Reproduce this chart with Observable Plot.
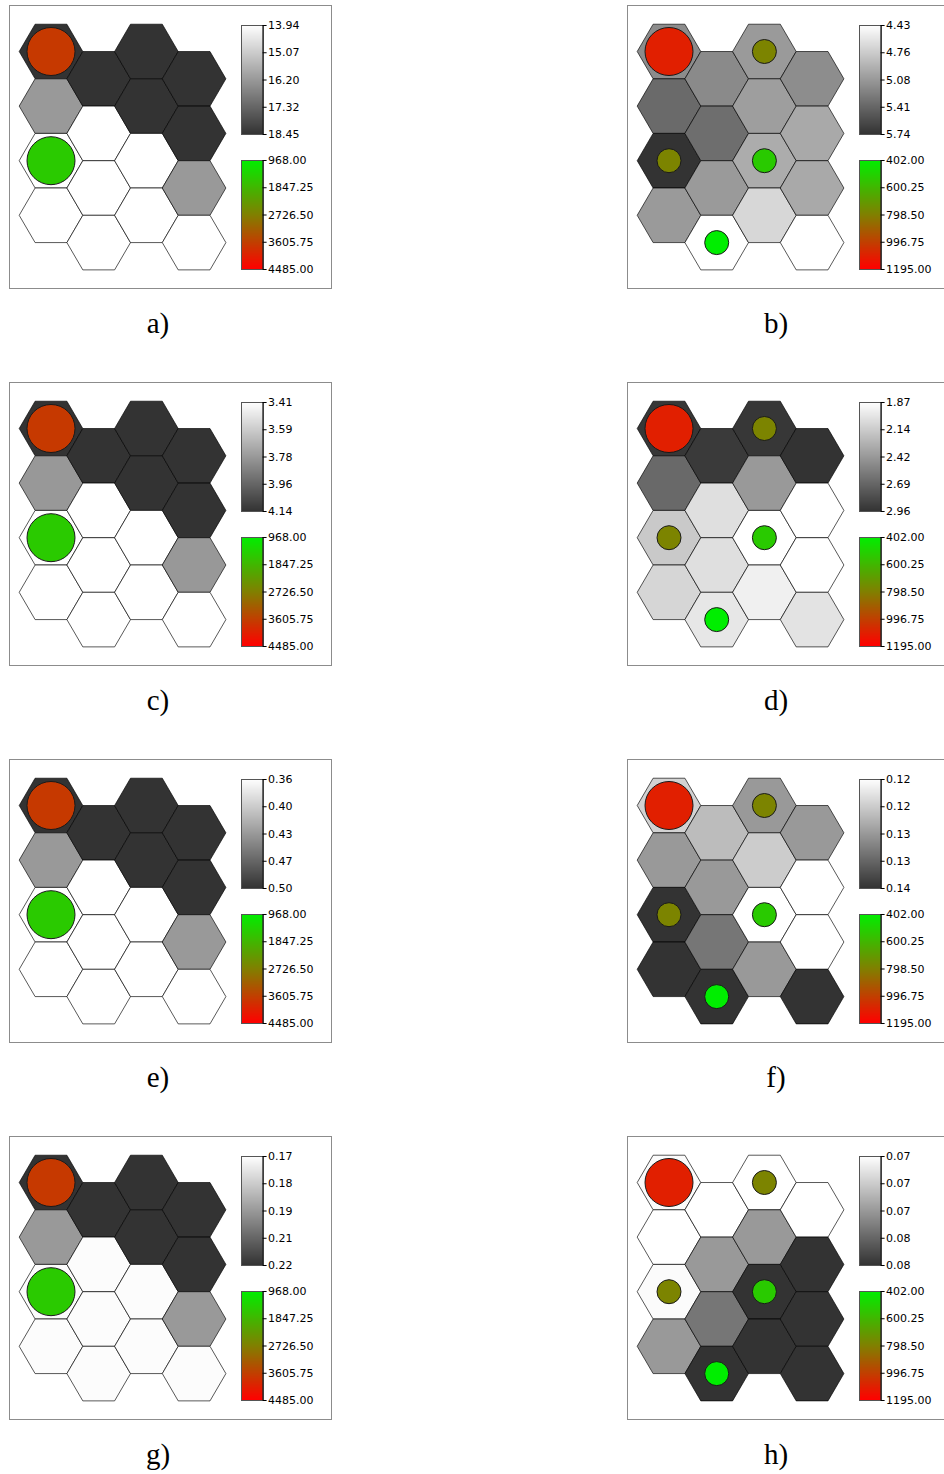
<!DOCTYPE html>
<html>
<head>
<meta charset="utf-8">
<script src="https://cdn.jsdelivr.net/npm/d3@7"></script>
<script src="https://cdn.jsdelivr.net/npm/@observablehq/plot@0.6"></script>
<style>
  html, body { margin: 0; padding: 0; background: #fff; }
  body { width: 944px; height: 1474px; overflow: hidden; position: relative; }
  .panel { position: absolute; width: 323px; height: 284px; box-sizing: border-box;
           border: 1.5px solid #8c8c8c; background: #fff; }
  .layer { position: absolute; }
  .cap { position: absolute; width: 120px; text-align: center; line-height: 29px;
         font-family: "Liberation Serif", "Times New Roman", serif; font-size: 29px; color: #000; }
</style>
</head>
<body>
<script>
// ---------------- data ----------------
const panelLabels = ["a)", "b)", "c)", "d)", "e)", "f)", "g)", "h)"];

// SOM grid: 4 columns x 4 rows (column-major order)
const hexCols = [0,0,0,0, 1,1,1,1, 2,2,2,2, 3,3,3,3];
const hexRows = [0,1,2,3, 0,1,2,3, 0,1,2,3, 0,1,2,3];

// component-plane values per panel (same order as hexCols/hexRows)
const valuesA = [18.45,16.20,13.94,13.94, 18.45,13.94,13.94,13.94, 18.45,18.45,13.94,13.94, 18.45,18.45,16.20,13.94];
const valuesB = [5.17,5.39,5.74,5.08, 5.18,5.36,5.08,4.43, 5.08,5.05,4.96,4.69, 5.16,4.98,4.98,4.43];
const valuesC = [4.14,3.78,3.41,3.41, 4.14,3.41,3.41,3.41, 4.14,4.14,3.41,3.41, 4.14,4.14,3.78,3.41];
const valuesD = [2.94,2.67,2.16,2.09, 2.92,2.04,2.04,2.00, 2.94,2.415,1.87,1.95, 2.96,1.87,1.87,2.02];
const valuesE = [0.50,0.43,0.36,0.36, 0.50,0.36,0.36,0.36, 0.50,0.50,0.36,0.36, 0.50,0.50,0.43,0.36];
const valuesF = [0.1219,0.1275,0.1375,0.1375, 0.1241,0.1275,0.1309,0.1375, 0.1275,0.1225,0.1175,0.1275, 0.1275,0.1175,0.1175,0.1375];
const valuesG = [0.22,0.194,0.1688,0.1688, 0.22,0.1688,0.1688,0.1688, 0.22,0.22,0.1688,0.1688, 0.22,0.22,0.194,0.1688];
const valuesH = [0.0692,0.069,0.0692,0.074, 0.069,0.074,0.0757,0.079, 0.069,0.074,0.079,0.079, 0.069,0.079,0.079,0.079];

const grayMin = [13.94, 4.43, 3.41, 1.87, 0.36, 0.1175, 0.168, 0.069];
const grayMax = [18.45, 5.74, 4.14, 2.96, 0.50, 0.1375, 0.22, 0.079];

const grayTicksA = ["13.94", "15.07", "16.20", "17.32", "18.45"];
const grayTicksB = ["4.43", "4.76", "5.08", "5.41", "5.74"];
const grayTicksC = ["3.41", "3.59", "3.78", "3.96", "4.14"];
const grayTicksD = ["1.87", "2.14", "2.42", "2.69", "2.96"];
const grayTicksE = ["0.36", "0.40", "0.43", "0.47", "0.50"];
const grayTicksF = ["0.12", "0.12", "0.13", "0.13", "0.14"];
const grayTicksG = ["0.17", "0.18", "0.19", "0.21", "0.22"];
const grayTicksH = ["0.07", "0.07", "0.07", "0.08", "0.08"];

// hit markers (left panels a,c,e,g / right panels b,d,f,h)
const hitMinLeft = 968, hitMaxLeft = 4485;
const hitMinRight = 402, hitMaxRight = 1195;
const hitTicksLeft = ["968.00", "1847.25", "2726.50", "3605.75", "4485.00"];
const hitTicksRight = ["402.00", "600.25", "798.50", "996.75", "1195.00"];

const circleColsLeft = [0, 0];
const circleRowsLeft = [0, 2];
const circleValuesLeft = [3700, 1550];
const circleSizesLeft = [4, 4];

const circleColsRight = [0, 2, 0, 2, 1];
const circleRowsRight = [0, 0, 2, 2, 3];
const circleValuesRight = [1100, 785, 785, 530, 402];
const circleSizesRight = [4, 1, 1, 1, 1];

// ---------------- build ----------------
const panelValues = [valuesA, valuesB, valuesC, valuesD, valuesE, valuesF, valuesG, valuesH];
const panelTicks = [grayTicksA, grayTicksB, grayTicksC, grayTicksD, grayTicksE, grayTicksF, grayTicksG, grayTicksH];

const HEX_R = 31.8, HEX_RATIO = 0.858, COL_STEP = 47.7, ROW_STEP = 54.6;
const PW = 230, PH = 284, ML = 41.5, MT = 46;
const B = 1.5; // box border

const flatHex = {
  draw(context, size) {
    const rx = Math.sqrt(size / Math.PI), ry = rx * HEX_RATIO;
    context.moveTo(rx, 0);
    context.lineTo(rx / 2, ry);
    context.lineTo(-rx / 2, ry);
    context.lineTo(-rx, 0);
    context.lineTo(-rx / 2, -ry);
    context.lineTo(rx / 2, -ry);
    context.closePath();
  }
};

const yPos = d => d.row + (d.col % 2) / 2;

function gridFrame() {
  return {
    width: PW, height: PH,
    marginLeft: ML, marginRight: PW - ML - 3 * COL_STEP,
    marginTop: MT, marginBottom: PH - MT - 3.5 * ROW_STEP,
    x: {domain: [0, 3], axis: null},
    y: {domain: [0, 3.5], axis: null, reverse: true},
    style: "background: transparent; overflow: visible;"
  };
}

function grayColor(min, max) {
  return {type: "linear", domain: [min, max], range: ["#ffffff", "#333333"]};
}
function hitColor(min, max) {
  return {type: "linear", domain: [min, (min + max) / 2, max], range: ["#00ee00", "#808000", "#ff0000"]};
}

function colorbar(min, max, labels, colorOpts) {
  const n = 109;
  const slices = d3.range(n).map(i => ({y1: min + (max - min) * i / n, y2: min + (max - min) * (i + 1) / n}));
  const ticks = labels.map((t, i) => ({v: min + (max - min) * i / (labels.length - 1), t}));
  const BW = 21.6, W = 90;
  return Plot.plot({
    width: W, height: 121,
    marginLeft: 1, marginRight: W - 1 - BW, marginTop: 6, marginBottom: 6,
    x: {domain: [0, 1], axis: null},
    y: {domain: [min, max], axis: null, reverse: true},
    color: colorOpts,
    style: "background: transparent; overflow: visible;",
    marks: [
      Plot.rect(slices, {x1: 0, x2: 1, y1: "y1", y2: "y2", fill: d => (d.y1 + d.y2) / 2, shapeRendering: "crispEdges"}),
      Plot.frame({stroke: "#555", strokeWidth: 1}),
      Plot.ruleX([1], {y1: min, y2: max, stroke: "#000", strokeWidth: 1}),
      Plot.ruleY(ticks, {y: "v", x1: 1, x2: 1 + 4 / BW, stroke: "#000", strokeWidth: 1}),
      Plot.text(ticks, {y: "v", x: 1 + 5 / BW, text: "t", textAnchor: "start",
        fontSize: 11, fontFamily: "DejaVu Sans, Verdana, sans-serif", fill: "#000"})
    ]
  });
}

function place(el, parent, left, top) {
  el.classList.add("layer");
  el.style.left = left + "px";
  el.style.top = top + "px";
  el.style.position = "absolute";
  parent.appendChild(el);
}

panelLabels.forEach((label, i) => {
  const side = i % 2, row = Math.floor(i / 2);
  const boxLeft = side === 0 ? 9 : 627;
  const boxTop = 5 + 377 * row;

  const box = document.createElement("div");
  box.className = "panel";
  box.style.left = boxLeft + "px";
  box.style.top = boxTop + "px";
  document.body.appendChild(box);

  const vals = panelValues[i];
  const hexes = hexCols.map((c, k) => ({col: c, row: hexRows[k], value: vals[k]}));
  const gmin = grayMin[i], gmax = grayMax[i];

  const hexPlot = Plot.plot({
    ...gridFrame(),
    color: grayColor(gmin, gmax),
    marks: [
      Plot.dot(hexes, {x: "col", y: yPos, r: HEX_R, symbol: flatHex, fill: "value",
        stroke: "#000", strokeOpacity: 0.65, strokeWidth: 1})
    ]
  });
  place(hexPlot, box, -B, -B);

  const cc = side === 0 ? circleColsLeft : circleColsRight;
  const cr = side === 0 ? circleRowsLeft : circleRowsRight;
  const cv = side === 0 ? circleValuesLeft : circleValuesRight;
  const cs = side === 0 ? circleSizesLeft : circleSizesRight;
  const hmin = side === 0 ? hitMinLeft : hitMinRight;
  const hmax = side === 0 ? hitMaxLeft : hitMaxRight;
  const circles = cc.map((c, k) => ({col: c, row: cr[k], value: cv[k], size: cs[k]}));

  const circlePlot = Plot.plot({
    ...gridFrame(),
    color: hitColor(hmin, hmax),
    r: {type: "sqrt", domain: [0, 4], range: [0, 24]},
    marks: [
      Plot.dot(circles, {x: "col", y: yPos, r: "size", fill: "value", stroke: "#1a1a1a", strokeWidth: 1})
    ]
  });
  place(circlePlot, box, -B, -B);

  const gbar = colorbar(gmin, gmax, panelTicks[i], grayColor(gmin, gmax));
  place(gbar, box, 232.7 - 1 - B, 20 - 6 - B);

  const hbar = colorbar(hmin, hmax, side === 0 ? hitTicksLeft : hitTicksRight, hitColor(hmin, hmax));
  place(hbar, box, 232.7 - 1 - B, 155 - 6 - B);

  const cap = document.createElement("div");
  cap.className = "cap";
  cap.textContent = label;
  cap.style.left = (boxLeft + 149 - 60) + "px";
  cap.style.top = (boxTop + 328 - 24.3) + "px";
  document.body.appendChild(cap);
});
</script>
</body>
</html>
